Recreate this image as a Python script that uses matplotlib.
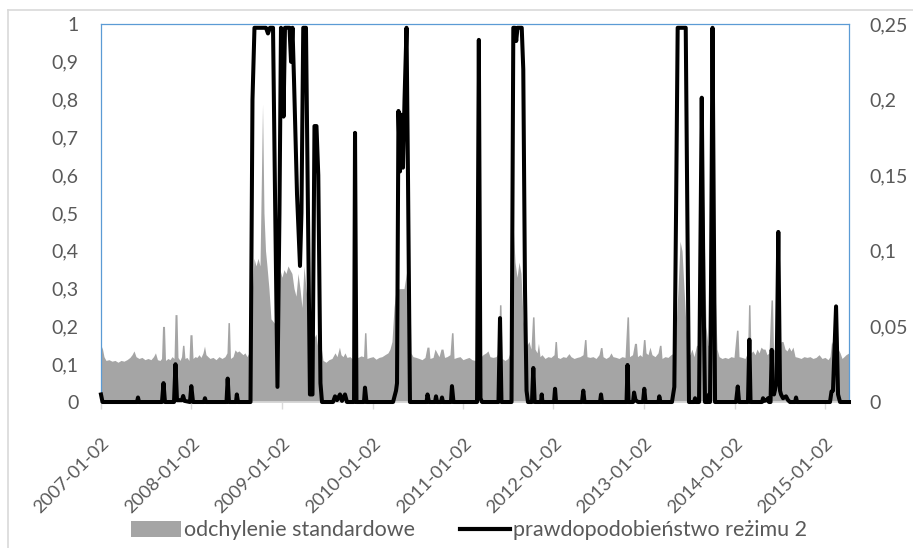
import matplotlib as mpl
mpl.use("Agg")
import matplotlib.pyplot as plt
import pandas as pd
from matplotlib.lines import Line2D
from matplotlib.patches import Patch

plt.rcParams["font.family"] = ["Lato", "DejaVu Sans"]

# regime-2 probability (left axis), time as decimal years
prob_years = [
    2007.000, 2007.017, 2007.398, 2007.409, 2007.420, 2007.674, 2007.691, 2007.707,
    2007.807, 2007.823, 2007.840, 2007.895, 2007.908, 2007.923, 2007.983, 2007.998,
    2008.017, 2008.138, 2008.149, 2008.160, 2008.387, 2008.400, 2008.414, 2008.492,
    2008.501, 2008.514, 2008.652, 2008.674, 2008.696, 2008.823, 2008.845, 2008.867,
    2008.901, 2008.923, 2008.950, 2008.972, 2008.989, 2009.006, 2009.017, 2009.033,
    2009.083, 2009.100, 2009.116, 2009.133, 2009.166, 2009.199, 2009.215, 2009.235,
    2009.265, 2009.287, 2009.309, 2009.337, 2009.359, 2009.381, 2009.401, 2009.425,
    2009.442, 2009.564, 2009.586, 2009.608, 2009.641, 2009.663, 2009.696, 2009.718,
    2009.796, 2009.807, 2009.823, 2009.906, 2009.917, 2009.934, 2010.227, 2010.260,
    2010.271, 2010.287, 2010.304, 2010.320, 2010.337, 2010.354, 2010.376, 2010.392,
    2010.414, 2010.597, 2010.608, 2010.624, 2010.691, 2010.702, 2010.713, 2010.757,
    2010.768, 2010.779, 2010.867, 2010.878, 2010.895, 2011.155, 2011.175, 2011.193,
    2011.210, 2011.392, 2011.409, 2011.425, 2011.536, 2011.556, 2011.575, 2011.588,
    2011.602, 2011.649, 2011.666, 2011.685, 2011.702, 2011.718, 2011.762, 2011.777,
    2011.792, 2011.862, 2011.870, 2011.878, 2012.006, 2012.017, 2012.028, 2012.315,
    2012.329, 2012.343, 2012.514, 2012.525, 2012.536, 2012.807, 2012.818, 2012.829,
    2012.879, 2012.890, 2012.906, 2012.934, 2012.989, 2013.003, 2013.017, 2013.160,
    2013.169, 2013.182, 2013.309, 2013.335, 2013.354, 2013.372, 2013.461, 2013.475,
    2013.497, 2013.553, 2013.564, 2013.575, 2013.608, 2013.638, 2013.657, 2013.674,
    2013.707, 2013.718, 2013.729, 2013.740, 2013.757, 2013.768, 2013.785, 2014.017,
    2014.036, 2014.050, 2014.149, 2014.164, 2014.177, 2014.304, 2014.315, 2014.326,
    2014.359, 2014.370, 2014.381, 2014.398, 2014.411, 2014.420, 2014.436, 2014.464,
    2014.484, 2014.503, 2014.514, 2014.536, 2014.569, 2014.591, 2014.613, 2014.669,
    2014.680, 2014.691, 2015.055, 2015.072, 2015.088, 2015.122, 2015.144, 2015.166,
    2015.265,
]
prob_values = [
    0.02, 0.0, 0.0, 0.012, 0.0, 0.0, 0.05, 0.0,
    0.0, 0.1, 0.005, 0.005, 0.016, 0.003, 0.0, 0.042,
    0.0, 0.0, 0.01, 0.0, 0.0, 0.062, 0.0, 0.0,
    0.02, 0.0, 0.0, 0.8, 0.99, 0.99, 0.975, 0.99,
    0.99, 0.55, 0.04, 0.5, 0.99, 0.9, 0.755, 0.99,
    0.99, 0.9, 0.99, 0.85, 0.55, 0.36, 0.5, 0.99,
    0.99, 0.5, 0.02, 0.02, 0.73, 0.73, 0.6, 0.05,
    0.0, 0.0, 0.015, 0.005, 0.02, 0.003, 0.02, 0.0,
    0.0, 0.712, 0.0, 0.0, 0.038, 0.0, 0.0, 0.03,
    0.05, 0.77, 0.61, 0.76, 0.62, 0.8, 0.99, 0.6,
    0.0, 0.0, 0.02, 0.0, 0.0, 0.015, 0.0, 0.0,
    0.012, 0.0, 0.0, 0.042, 0.0, 0.0, 0.958, 0.01,
    0.0, 0.0, 0.222, 0.0, 0.0, 0.99, 0.99, 0.955,
    0.99, 0.99, 0.88, 0.3, 0.03, 0.0, 0.0, 0.09,
    0.0, 0.0, 0.02, 0.0, 0.0, 0.035, 0.0, 0.0,
    0.03, 0.0, 0.0, 0.02, 0.0, 0.0, 0.098, 0.0,
    0.0, 0.025, 0.005, 0.0, 0.0, 0.035, 0.0, 0.0,
    0.015, 0.0, 0.0, 0.04, 0.5, 0.99, 0.99, 0.6,
    0.0, 0.0, 0.01, 0.0, 0.0, 0.805, 0.3, 0.0,
    0.0, 0.02, 0.0, 0.3, 0.99, 0.6, 0.0, 0.0,
    0.041, 0.0, 0.0, 0.165, 0.0, 0.0, 0.01, 0.003,
    0.005, 0.01, 0.0, 0.0, 0.138, 0.05, 0.02, 0.05,
    0.45, 0.03, 0.02, 0.01, 0.015, 0.005, 0.0, 0.0,
    0.012, 0.0, 0.0, 0.028, 0.03, 0.253, 0.02, 0.0,
    0.0,
]

# standard deviation (right axis)
std_years = [
    2007.000, 2007.017, 2007.033, 2007.055, 2007.088, 2007.122, 2007.155, 2007.188,
    2007.221, 2007.254, 2007.287, 2007.320, 2007.343, 2007.365, 2007.387, 2007.420,
    2007.453, 2007.486, 2007.519, 2007.552, 2007.580, 2007.602, 2007.624, 2007.652,
    2007.669, 2007.680, 2007.702, 2007.713, 2007.740, 2007.762, 2007.785, 2007.807,
    2007.818, 2007.840, 2007.851, 2007.873, 2007.890, 2007.901, 2007.917, 2007.928,
    2007.950, 2007.972, 2007.983, 2008.006, 2008.017, 2008.039, 2008.061, 2008.083,
    2008.105, 2008.127, 2008.144, 2008.160, 2008.182, 2008.204, 2008.238, 2008.271,
    2008.304, 2008.337, 2008.370, 2008.392, 2008.403, 2008.420, 2008.431, 2008.459,
    2008.481, 2008.503, 2008.525, 2008.547, 2008.569, 2008.591, 2008.613, 2008.635,
    2008.652, 2008.669, 2008.691, 2008.713, 2008.735, 2008.757, 2008.773, 2008.785,
    2008.801, 2008.818, 2008.834, 2008.856, 2008.878, 2008.912, 2008.945, 2008.961,
    2008.978, 2009.000, 2009.022, 2009.044, 2009.066, 2009.088, 2009.110, 2009.133,
    2009.155, 2009.177, 2009.199, 2009.221, 2009.243, 2009.265, 2009.287, 2009.309,
    2009.331, 2009.354, 2009.376, 2009.398, 2009.420, 2009.436, 2009.453, 2009.486,
    2009.519, 2009.552, 2009.586, 2009.608, 2009.635, 2009.652, 2009.674, 2009.696,
    2009.718, 2009.751, 2009.773, 2009.807, 2009.840, 2009.873, 2009.901, 2009.912,
    2009.928, 2009.939, 2009.972, 2010.006, 2010.039, 2010.072, 2010.105, 2010.138,
    2010.171, 2010.193, 2010.215, 2010.238, 2010.260, 2010.304, 2010.348, 2010.381,
    2010.398, 2010.414, 2010.425, 2010.448, 2010.481, 2010.514, 2010.547, 2010.580,
    2010.602, 2010.624, 2010.635, 2010.669, 2010.691, 2010.713, 2010.735, 2010.757,
    2010.779, 2010.796, 2010.823, 2010.856, 2010.873, 2010.890, 2010.901, 2010.934,
    2010.967, 2011.000, 2011.033, 2011.066, 2011.099, 2011.133, 2011.166, 2011.188,
    2011.199, 2011.221, 2011.254, 2011.276, 2011.298, 2011.331, 2011.365, 2011.392,
    2011.403, 2011.420, 2011.431, 2011.464, 2011.497, 2011.519, 2011.541, 2011.558,
    2011.575, 2011.597, 2011.619, 2011.641, 2011.663, 2011.685, 2011.707, 2011.729,
    2011.751, 2011.768, 2011.785, 2011.796, 2011.818, 2011.834, 2011.851, 2011.873,
    2011.906, 2011.939, 2011.972, 2012.006, 2012.017, 2012.033, 2012.044, 2012.072,
    2012.105, 2012.138, 2012.171, 2012.193, 2012.227, 2012.260, 2012.293, 2012.326,
    2012.343, 2012.359, 2012.370, 2012.403, 2012.436, 2012.470, 2012.503, 2012.519,
    2012.536, 2012.547, 2012.580, 2012.613, 2012.635, 2012.657, 2012.691, 2012.724,
    2012.757, 2012.790, 2012.812, 2012.829, 2012.840, 2012.873, 2012.895, 2012.917,
    2012.928, 2012.956, 2012.978, 2012.994, 2013.011, 2013.022, 2013.044, 2013.066,
    2013.088, 2013.122, 2013.155, 2013.171, 2013.188, 2013.199, 2013.232, 2013.265,
    2013.298, 2013.331, 2013.354, 2013.376, 2013.398, 2013.420, 2013.442, 2013.464,
    2013.486, 2013.508, 2013.530, 2013.552, 2013.580, 2013.597, 2013.613, 2013.630,
    2013.652, 2013.669, 2013.685, 2013.707, 2013.729, 2013.751, 2013.768, 2013.785,
    2013.807, 2013.829, 2013.862, 2013.895, 2013.928, 2013.961, 2013.994, 2014.022,
    2014.039, 2014.050, 2014.083, 2014.116, 2014.144, 2014.155, 2014.171, 2014.182,
    2014.204, 2014.227, 2014.249, 2014.271, 2014.293, 2014.315, 2014.337, 2014.359,
    2014.381, 2014.403, 2014.420, 2014.431, 2014.448, 2014.470, 2014.492, 2014.514,
    2014.536, 2014.558, 2014.580, 2014.602, 2014.624, 2014.646, 2014.669, 2014.702,
    2014.735, 2014.768, 2014.801, 2014.834, 2014.867, 2014.901, 2014.934, 2014.967,
    2015.000, 2015.033, 2015.055, 2015.072, 2015.088, 2015.105, 2015.127, 2015.144,
    2015.166, 2015.188, 2015.210, 2015.232, 2015.265,
]
std_values = [
    0.0375, 0.035, 0.030, 0.0275, 0.028, 0.027, 0.0275, 0.0263,
    0.0275, 0.027, 0.028, 0.0295, 0.0313, 0.0338, 0.030, 0.0288,
    0.0295, 0.028, 0.0288, 0.028, 0.030, 0.0325, 0.028, 0.0275,
    0.0288, 0.050, 0.050, 0.0275, 0.0288, 0.028, 0.030, 0.0288,
    0.0578, 0.0578, 0.0295, 0.0275, 0.030, 0.0375, 0.0375, 0.0288,
    0.0295, 0.0275, 0.0445, 0.0445, 0.0288, 0.030, 0.0295, 0.0313,
    0.0295, 0.0325, 0.037, 0.0313, 0.030, 0.0288, 0.0295, 0.028,
    0.030, 0.0288, 0.030, 0.0325, 0.0525, 0.0525, 0.0288, 0.030,
    0.0345, 0.033, 0.0338, 0.0325, 0.0313, 0.0325, 0.030, 0.0325,
    0.0675, 0.070, 0.095, 0.090, 0.095, 0.090, 0.150, 0.197,
    0.125, 0.100, 0.090, 0.075, 0.055, 0.0525, 0.050, 0.055,
    0.0875, 0.0825, 0.0875, 0.085, 0.090, 0.0875, 0.085, 0.075,
    0.070, 0.085, 0.075, 0.0625, 0.090, 0.075, 0.0625, 0.050,
    0.055, 0.0425, 0.045, 0.035, 0.0525, 0.035, 0.0275, 0.0263,
    0.028, 0.0288, 0.0325, 0.030, 0.0363, 0.0313, 0.030, 0.0325,
    0.0295, 0.030, 0.0288, 0.030, 0.0295, 0.0305, 0.030, 0.0458,
    0.0458, 0.0288, 0.0295, 0.030, 0.0283, 0.0295, 0.030, 0.0313,
    0.0325, 0.035, 0.040, 0.0625, 0.0743, 0.075, 0.075, 0.0875,
    0.1225, 0.075, 0.0325, 0.030, 0.0295, 0.0288, 0.028, 0.0295,
    0.0363, 0.0363, 0.0288, 0.0295, 0.035, 0.0325, 0.030, 0.035,
    0.035, 0.0295, 0.030, 0.0313, 0.0458, 0.0458, 0.0288, 0.0295,
    0.030, 0.028, 0.0288, 0.0295, 0.028, 0.0275, 0.030, 0.150,
    0.030, 0.0313, 0.0325, 0.0338, 0.030, 0.0295, 0.030, 0.0325,
    0.0643, 0.0643, 0.0288, 0.0275, 0.0288, 0.0325, 0.075, 0.1125,
    0.0925, 0.0825, 0.0925, 0.085, 0.055, 0.0425, 0.0375, 0.040,
    0.035, 0.0563, 0.0563, 0.035, 0.0325, 0.0388, 0.030, 0.0313,
    0.0288, 0.030, 0.0295, 0.0313, 0.040, 0.040, 0.0295, 0.0288,
    0.030, 0.0295, 0.032, 0.030, 0.0288, 0.0295, 0.030, 0.0313,
    0.0413, 0.0413, 0.030, 0.0295, 0.030, 0.0288, 0.0313, 0.036,
    0.036, 0.030, 0.0288, 0.030, 0.0325, 0.030, 0.0295, 0.0288,
    0.030, 0.0295, 0.0563, 0.0563, 0.030, 0.0313, 0.0388, 0.0388,
    0.030, 0.0313, 0.030, 0.0413, 0.0413, 0.0325, 0.0313, 0.0363,
    0.0313, 0.030, 0.0325, 0.0375, 0.0375, 0.0288, 0.030, 0.0295,
    0.0313, 0.0325, 0.050, 0.075, 0.1063, 0.100, 0.075, 0.050,
    0.0325, 0.0313, 0.035, 0.030, 0.0375, 0.0375, 0.0325, 0.075,
    0.150, 0.100, 0.050, 0.0375, 0.0375, 0.075, 0.1225, 0.075,
    0.035, 0.030, 0.0288, 0.0295, 0.0288, 0.030, 0.0295, 0.0475,
    0.0475, 0.030, 0.0295, 0.0288, 0.0325, 0.0643, 0.0643, 0.0325,
    0.0338, 0.0313, 0.035, 0.0325, 0.0363, 0.035, 0.035, 0.0313,
    0.0325, 0.0675, 0.0675, 0.035, 0.0338, 0.0375, 0.035, 0.040,
    0.040, 0.035, 0.0338, 0.0363, 0.0338, 0.0363, 0.030, 0.0295,
    0.0288, 0.030, 0.0295, 0.030, 0.0288, 0.0295, 0.0313, 0.0288,
    0.0295, 0.028, 0.030, 0.040, 0.0375, 0.0643, 0.0643, 0.035,
    0.0325, 0.0288, 0.030, 0.0313, 0.0325,
]

left_ticks = [0, 0.1, 0.2, 0.3, 0.4, 0.5, 0.6, 0.7, 0.8, 0.9, 1]
right_ticks = [0, 0.05, 0.1, 0.15, 0.2, 0.25]
tick_years = list(range(2007, 2016))
labels = ["odchylenie standardowe", "prawdopodobieństwo reżimu 2"]

START = pd.Timestamp("2007-01-02")


def to_dates(years):
    return [START + pd.Timedelta(days=(y - 2007) * 365.25) for y in years]


def comma(v):
    return f"{v:g}".replace(".", ",")


TEXT = "#595959"
BLUE = "#5b9bd5"
AXIS = "#d9d9d9"
GRAY = "#a5a5a5"

fig = plt.figure(figsize=(9.13, 5.48), dpi=100)
ax = fig.add_axes([0.1106, 0.2664, 0.8193, 0.6898])
ax2 = ax.twinx()
ax.set_zorder(ax2.get_zorder() + 1)
ax.patch.set_visible(False)

ax2.fill_between(to_dates(std_years), 0, std_values, color=GRAY, linewidth=0)
ax.plot(to_dates(prob_years), prob_values, color="black", lw=2.9,
        solid_joinstyle="round", clip_on=False, zorder=3)

ax.set_xlim(START, to_dates([prob_years[-1]])[0])
ax.set_ylim(0, 1)
ax2.set_ylim(0, 0.25)

ax.set_yticks(left_ticks)
ax.set_yticklabels([comma(v) for v in left_ticks])
ax2.set_yticks(right_ticks)
ax2.set_yticklabels([comma(v) for v in right_ticks])

xt = [pd.Timestamp(f"{y}-01-02") for y in tick_years]
ax.set_xticks(xt)
ax.set_xticklabels([t.strftime("%Y-%m-%d") for t in xt], rotation=45,
                   ha="right", va="top", rotation_mode="anchor")

ax.tick_params(axis="y", length=0, pad=16, labelsize=14, labelcolor=TEXT)
ax2.tick_params(axis="y", length=0, pad=15, labelsize=14, labelcolor=TEXT)
ax.tick_params(axis="x", length=5, width=1, color=AXIS, pad=19,
               labelsize=13.2, labelcolor=TEXT)
ax2.tick_params(axis="x", length=0)

for side in ["left", "top", "right"]:
    ax.spines[side].set_color(BLUE)
    ax.spines[side].set_linewidth(0.9)
ax.spines["bottom"].set_color(AXIS)
ax.spines["bottom"].set_linewidth(1.2)
for s in ax2.spines.values():
    s.set_visible(False)

# outer chart border (left and top edges are visible)
fig.add_artist(Line2D([8 / 913, 8 / 913], [0, 1 - 10 / 548], color=AXIS, lw=1.2))
fig.add_artist(Line2D([8 / 913, 1], [1 - 10 / 548, 1 - 10 / 548], color=AXIS, lw=1.2))

handles = [Patch(facecolor=GRAY, edgecolor="none"), Line2D([], [], color="black", lw=3)]
fig.legend(handles, labels, loc="center", bbox_to_anchor=(0.514, 0.032), ncol=2,
           frameon=False, fontsize=15.5, labelcolor=TEXT, handlelength=2.3,
           handleheight=0.75, handletextpad=0.15, columnspacing=2.1)

fig.savefig("out.png", dpi=100)
